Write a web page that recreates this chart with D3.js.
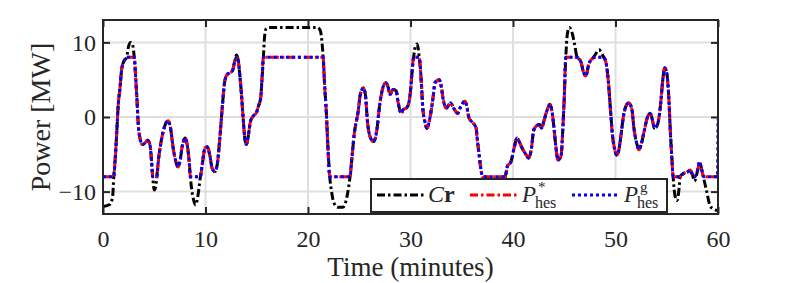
<!DOCTYPE html>
<html>
<head>
<meta charset="utf-8">
<script src="https://cdn.jsdelivr.net/npm/d3@7"></script>
<style>
  body { margin: 0; background: #fff; }
  svg text { font-family: "Liberation Serif", "Times New Roman", serif; fill: #262626; }
</style>
</head>
<body>
<div id="chart"></div>
<script>
////////////////////////////////////////////////////////////////////////////
//////////////////////////////   data   ////////////////////////////////////
var time = [
  0, 0.7, 0.95, 1.05, 1.17, 1.33, 1.49, 1.66, 1.82, 2.05,
  2.3, 2.5, 2.7, 2.88, 3.05, 3.21, 3.34, 3.44, 3.6, 3.86,
  4.09, 4.35, 4.58, 4.74, 4.85, 5.0, 5.15, 5.25, 5.39, 5.62,
  5.88, 6.14, 6.36, 6.59, 6.85, 7.11, 7.34, 7.5, 7.76, 8.02,
  8.21, 8.41, 8.52, 8.8, 9.03, 9.22, 9.5, 9.68, 9.94, 10.16,
  10.42, 10.65, 10.91, 11.14, 11.4, 11.66, 11.88, 12.11, 12.37, 12.63,
  12.86, 13.02, 13.18, 13.34, 13.51, 13.67, 13.83, 13.99, 14.19, 14.38,
  14.64, 14.97, 15.15, 15.39, 15.5, 15.65, 15.75, 15.9, 16.2, 17,
  18, 19, 20, 20.9, 21.2, 21.38, 21.48, 21.6, 21.8, 21.95,
  22.12, 22.3, 22.5, 22.9, 23.4, 23.8, 24.1, 24.25, 24.5, 24.9,
  25.1, 25.4, 25.6, 25.8, 26.1, 26.4, 26.7, 27.0, 27.3, 27.6,
  27.8, 28.0, 28.3, 28.6, 28.8, 29.1, 29.3, 29.6, 29.8, 30.0,
  30.15, 30.3, 30.5, 30.65, 30.85, 31.05, 31.2, 31.4, 31.6, 31.9,
  32.2, 32.4, 32.8, 33.0, 33.2, 33.5, 33.9, 34.2, 34.6, 34.9,
  35.3, 35.5, 35.7, 36.1, 36.4, 36.5, 36.7, 36.9, 37.05, 37.4,
  38.2, 39.0, 39.25, 39.45, 39.8, 40.1, 40.4, 40.6, 40.9, 41.3,
  41.5, 41.8, 42.0, 42.2, 42.6, 42.8, 43.0, 43.3, 43.6, 43.8,
  44.0, 44.2, 44.4, 44.7, 44.85, 45.0, 45.15, 45.3, 45.5, 45.8,
  46.0, 46.25, 46.6, 46.9, 47.1, 47.4, 47.8, 48.0, 48.4, 48.7,
  48.85, 49.1, 49.3, 49.5, 49.7, 49.9, 50.1, 50.3, 50.5, 50.8,
  51.0, 51.3, 51.6, 51.8, 52.1, 52.3, 52.5, 52.8, 53.1, 53.4,
  53.6, 53.8, 54.1, 54.4, 54.6, 54.8, 55.0, 55.2, 55.35, 55.5,
  55.62, 55.8, 56.0, 56.2, 56.3, 56.6, 57.1, 57.3, 57.5, 57.7,
  58.0, 58.2, 58.4, 58.6, 58.9, 59.2, 59.5, 59.95, 60
];

// Cr (reference power)
var crValues = [
  -12, -11.7, -10.5, -8, -6, -2.4, 1.7, 3.9, 6.4, 7.5,
  8, 9.5, 10, 9.7, 8, 4.8, 1.7, -1.0, -2.8, -3.7,
  -3.5, -3.1, -3.7, -6, -8, -9.8, -9.3, -8, -6, -3.7,
  -1.9, -0.8, -0.5, -1.5, -4.2, -6, -6.7, -6, -3.7, -2.8,
  -3.7, -6, -8, -10.9, -11.8, -10.9, -8, -6.4, -4.2, -4.0,
  -5.1, -6.9, -7.3, -6.4, -2.8, 1.7, 4.8, 5.7, 5.9, 6.2,
  7.5, 8.3, 7.7, 5.7, 3.0, -0.1, -2.8, -3.7, -2.4, -0.6,
  0.1, 0.6, 1.4, 2.6, 4.8, 8, 10.5, 11.8, 12, 12,
  12, 12, 12, 12, 11.6, 9.8, 8, 4.8, 0.3, -4.2,
  -8, -10, -11.4, -12.1, -12.1, -10.7, -8, -6, -2.4, 0.8,
  3.0, 3.9, 3.0, -0.6, -2.8, -3.3, -1.9, 1.7, 3.9, 4.6,
  4.1, 3.0, 3.7, 3.5, 1.9, 0.5, 1.0, 1.2, 1.7, 3.5,
  6, 8, 9.6, 9.8, 8, 4.8, 1.2, -0.6, -1.5, -0.1,
  2.6, 4.6, 5.0, 4.1, 2.3, 1.2, 1.9, 1.2, 0.5, 1.4,
  2.1, 1.4, -0.1, -0.8, -1.5, -2.8, -5.1, -7.3, -8, -9,
  -9.5, -9, -8, -6.6, -6.0, -4.2, -2.8, -3.3, -4.2, -5.1,
  -5.5, -4.2, -1.9, -1.3, -1.0, -1.5, -0.6, 0.8, 1.7, 0.8,
  -1.5, -4.2, -5.8, -5.1, -1.9, 2.6, 8, 11.1, 12, 11.1,
  9.8, 8, 7.5, 5.9, 5.5, 7.1, 7.9, 8.3, 9.0, 8.4,
  8, 7.1, 4.8, 1.2, -2.4, -4.2, -5.1, -4.6, -2.8, 0.3,
  1.4, 1.9, 1.0, -1.5, -3.7, -4.4, -3.7, -1.9, -0.1, 0.5,
  -0.4, -1.5, -1.0, 1.7, 4.8, 6.6, 5.9, 2.6, -1.9, -5.5,
  -8, -10.5, -11.2, -9.6, -8, -7.6, -7.3, -7.1, -7.7, -8.6,
  -7.2, -6.0, -7.0, -8.2, -10, -11.8, -12.3, -12.5, -12.5
];

// P*_hes
var pStarValues = [
  -8, -8, -8, -8, -6, -2.4, 1.7, 3.9, 6.4, 7.5,
  8, 8, 8, 8, 8, 4.8, 1.7, -1.0, -2.8, -3.7,
  -3.5, -3.1, -3.7, -6, -8, -8, -8, -8, -6, -3.7,
  -1.9, -0.8, -0.5, -1.5, -4.2, -6, -6.7, -6, -3.7, -2.8,
  -3.7, -6, -8, -8, -8, -8, -8, -6.4, -4.2, -4.0,
  -5.1, -6.9, -7.3, -6.4, -2.8, 1.7, 4.8, 5.7, 5.9, 6.2,
  7.5, 8, 7.7, 5.7, 3.0, -0.1, -2.8, -3.7, -2.4, -0.6,
  0.1, 0.6, 1.4, 2.6, 4.8, 8, 8, 8, 8, 8,
  8, 8, 8, 8, 8, 8, 8, 4.8, 0.3, -4.2,
  -8, -8, -8, -8, -8, -8, -8, -6, -2.4, 0.8,
  3.0, 3.9, 3.0, -0.6, -2.8, -3.3, -1.9, 1.7, 3.9, 4.6,
  4.1, 3.0, 3.7, 3.5, 1.9, 0.5, 1.0, 1.2, 1.7, 3.5,
  6, 8, 8, 8, 8, 4.8, 1.2, -0.6, -1.5, -0.1,
  2.6, 4.6, 5.0, 4.1, 2.3, 1.2, 1.9, 1.2, 0.5, 1.4,
  2.1, 1.4, -0.1, -0.8, -1.5, -2.8, -5.1, -7.3, -8, -8,
  -8, -8, -8, -6.6, -6.0, -4.2, -2.8, -3.3, -4.2, -5.1,
  -5.5, -4.2, -1.9, -1.3, -1.0, -1.5, -0.6, 0.8, 1.7, 0.8,
  -1.5, -4.2, -5.8, -5.1, -1.9, 2.6, 8, 8, 8, 8,
  8, 8, 7.5, 5.9, 5.5, 7.1, 7.9, 8, 8, 8,
  8, 7.1, 4.8, 1.2, -2.4, -4.2, -5.1, -4.6, -2.8, 0.3,
  1.4, 1.9, 1.0, -1.5, -3.7, -4.4, -3.7, -1.9, -0.1, 0.5,
  -0.4, -1.5, -1.0, 1.7, 4.8, 6.6, 5.9, 2.6, -1.9, -5.5,
  -8, -8, -8, -8, -8, -7.6, -7.3, -7.1, -7.7, -8,
  -7.2, -6.0, -7.0, -8, -8, -8, -8, -8, -8
];

// P^g_hes
var pGValues = [
  -8, -8, -8, -8, -6, -2.4, 1.7, 3.9, 6.4, 7.5,
  8, 8, 8, 8, 8, 4.8, 1.7, -1.0, -2.8, -3.7,
  -3.5, -3.1, -3.7, -6, -8, -8, -8, -8, -6, -3.7,
  -1.9, -0.8, -0.5, -1.5, -4.2, -6, -6.7, -6, -3.7, -2.8,
  -3.7, -6, -8, -8, -8, -8, -8, -6.4, -4.2, -4.0,
  -5.1, -6.9, -7.3, -6.4, -2.8, 1.7, 4.8, 5.7, 5.9, 6.2,
  7.5, 8, 7.7, 5.7, 3.0, -0.1, -2.8, -3.7, -2.4, -0.6,
  0.1, 0.6, 1.4, 2.6, 4.8, 8, 8, 8, 8, 8,
  8, 8, 8, 8, 8, 8, 8, 4.8, 0.3, -4.2,
  -8, -8, -8, -8, -8, -8, -8, -6, -2.4, 0.8,
  3.0, 3.9, 3.0, -0.6, -2.8, -3.3, -1.9, 1.7, 3.9, 4.6,
  4.1, 3.0, 3.7, 3.5, 1.9, 0.5, 1.0, 1.2, 1.7, 3.5,
  6, 8, 8, 8, 8, 4.8, 1.2, -0.6, -1.5, -0.1,
  2.6, 4.6, 5.0, 4.1, 2.3, 1.2, 1.9, 1.2, 0.5, 1.4,
  2.1, 1.4, -0.1, -0.8, -1.5, -2.8, -5.1, -7.3, -8, -8,
  -8, -8, -8, -6.6, -6.0, -4.2, -2.8, -3.3, -4.2, -5.1,
  -5.5, -4.2, -1.9, -1.3, -1.0, -1.5, -0.6, 0.8, 1.7, 0.8,
  -1.5, -4.2, -5.8, -5.1, -1.9, 2.6, 8, 8, 8, 8,
  8, 8, 7.5, 5.9, 5.5, 7.1, 7.9, 8, 8, 8,
  8, 7.1, 4.8, 1.2, -2.4, -4.2, -5.1, -4.6, -2.8, 0.3,
  1.4, 1.9, 1.0, -1.5, -3.7, -4.4, -3.7, -1.9, -0.1, 0.5,
  -0.4, -1.5, -1.0, 1.7, 4.8, 6.6, 5.9, 2.6, -1.9, -5.5,
  -8, -8, -8, -8, -8, -7.6, -7.3, -7.1, -7.7, -8,
  -7.2, -6.0, -7.0, -8, -8, -8, -8, -8, -0.3
];

var xTicks = [0, 10, 20, 30, 40, 50, 60];
var yTicks = [-10, 0, 10];

////////////////////////////////////////////////////////////////////////////
//////////////////////////////  init chart  ////////////////////////////////
var width = 793, height = 283;
var margin = {top: 20, right: 75, bottom: 69, left: 103};
var plotW = width - margin.left - margin.right;
var plotH = height - margin.top - margin.bottom;
var FONT = '"Liberation Serif", "Times New Roman", serif';

var svg = d3.select("#chart")
  .append("svg")
  .attr("width", width)
  .attr("height", height);

var x = d3.scaleLinear().domain([0, 60]).range([0, plotW]);
var y = d3.scaleLinear().domain([-13, 13]).range([plotH, 0]);

var g = svg.append("g")
  .attr("transform", "translate(" + margin.left + "," + margin.top + ")");

svg.append("defs").append("clipPath")
  .attr("id", "plotclip")
  .append("rect")
  .attr("width", plotW)
  .attr("height", plotH);

// grid
g.selectAll(".xgrid").data(xTicks).enter().append("line")
  .attr("x1", function(d){ return x(d); }).attr("x2", function(d){ return x(d); })
  .attr("y1", 0).attr("y2", plotH)
  .style("stroke", "#dfdfdf").style("stroke-width", 2);
g.selectAll(".ygrid").data(yTicks).enter().append("line")
  .attr("y1", function(d){ return y(d); }).attr("y2", function(d){ return y(d); })
  .attr("x1", 0).attr("x2", plotW)
  .style("stroke", "#dfdfdf").style("stroke-width", 2);

//////////////////////////////  lines  /////////////////////////////////////
function toPoints(vals) {
  return time.map(function(t, i){ return {t: t, v: vals[i]}; });
}

var line = d3.line()
  .x(function(d){ return x(d.t); })
  .y(function(d){ return y(d.v); })
  .curve(d3.curveMonotoneX);

var series = [
  {name: "cr",    vals: crValues,    color: "#000000", dash: "8,3,2.5,3"},
  {name: "pstar", vals: pStarValues, color: "#ff0000", dash: "8,3,2.5,3"},
  {name: "pg",    vals: pGValues,    color: "#0000ff", dash: "3,3"}
];

var linesG = g.append("g").attr("clip-path", "url(#plotclip)");
series.forEach(function(s){
  linesG.append("path")
    .datum(toPoints(s.vals))
    .attr("d", line)
    .style("fill", "none")
    .style("stroke", s.color)
    .style("stroke-width", 3)
    .style("stroke-dasharray", s.dash);
});

//////////////////////////////  axes  //////////////////////////////////////
var xAxis = g.append("g")
  .attr("transform", "translate(0," + plotH + ")")
  .call(d3.axisBottom(x).tickValues(xTicks).tickSize(-7).tickPadding(0).tickSizeOuter(0));
var yAxis = g.append("g")
  .call(d3.axisLeft(y).tickValues(yTicks).tickSize(-7).tickPadding(0).tickSizeOuter(0));
var xAxisTop = g.append("g")
  .call(d3.axisTop(x).tickValues(xTicks).tickSize(-7).tickFormat("").tickSizeOuter(0));
var yAxisRight = g.append("g")
  .attr("transform", "translate(" + plotW + ",0)")
  .call(d3.axisRight(y).tickValues(yTicks).tickSize(-7).tickFormat("").tickSizeOuter(0));

[xAxis, yAxis, xAxisTop, yAxisRight].forEach(function(a){
  a.attr("font-family", FONT);
  a.select(".domain").remove();
  a.selectAll(".tick line").style("stroke", "#262626").style("stroke-width", 2);
});

xAxis.selectAll(".tick text")
  .attr("y", 33).attr("dy", 0)
  .style("font-family", FONT).style("font-size", "24px").style("fill", "#262626");
yAxis.selectAll(".tick text")
  .attr("x", -7).attr("dy", "0.33em")
  .style("font-family", FONT).style("font-size", "24px").style("fill", "#262626");

// box
g.append("rect")
  .attr("width", plotW).attr("height", plotH)
  .style("fill", "none").style("stroke", "#262626").style("stroke-width", 2);

svg.append("text")
  .attr("x", margin.left + plotW / 2).attr("y", 276)
  .attr("text-anchor", "middle")
  .style("font-size", "27px")
  .text("Time (minutes)");

svg.append("text")
  .attr("transform", "translate(50," + (margin.top + y(0)) + ") rotate(-90)")
  .attr("text-anchor", "middle")
  .style("font-size", "28px")
  .text("Power [MW]");

//////////////////////////////  legend  ////////////////////////////////////
var lg = svg.append("g").attr("transform", "translate(371,179)");
lg.append("rect")
  .attr("width", 296).attr("height", 33)
  .style("fill", "#fff").style("stroke", "#262626").style("stroke-width", 2);

var sampleX = [6, 99, 201];
series.forEach(function(s, i){
  lg.append("line")
    .attr("x1", sampleX[i]).attr("x2", sampleX[i] + 48)
    .attr("y1", 16).attr("y2", 16)
    .style("stroke", s.color).style("stroke-width", 3)
    .style("stroke-dasharray", s.dash);
});

var crLabel = lg.append("text").attr("x", 57).attr("y", 23).style("font-size", "24px");
crLabel.append("tspan").style("font-style", "italic").text("C");
crLabel.append("tspan").style("font-weight", "bold").text("r");

function hesLabel(x0, sup) {
  lg.append("text").attr("x", x0).attr("y", 23)
    .style("font-size", "23px").style("font-style", "italic").text("P");
  lg.append("text").attr("x", x0 + 16).attr("y", 13)
    .style("font-size", "15px").text(sup);
  lg.append("text").attr("x", x0 + 13).attr("y", 29)
    .style("font-size", "16px").text("hes");
}
hesLabel(151, "*");
hesLabel(253, "g");
</script>
</body>
</html>
